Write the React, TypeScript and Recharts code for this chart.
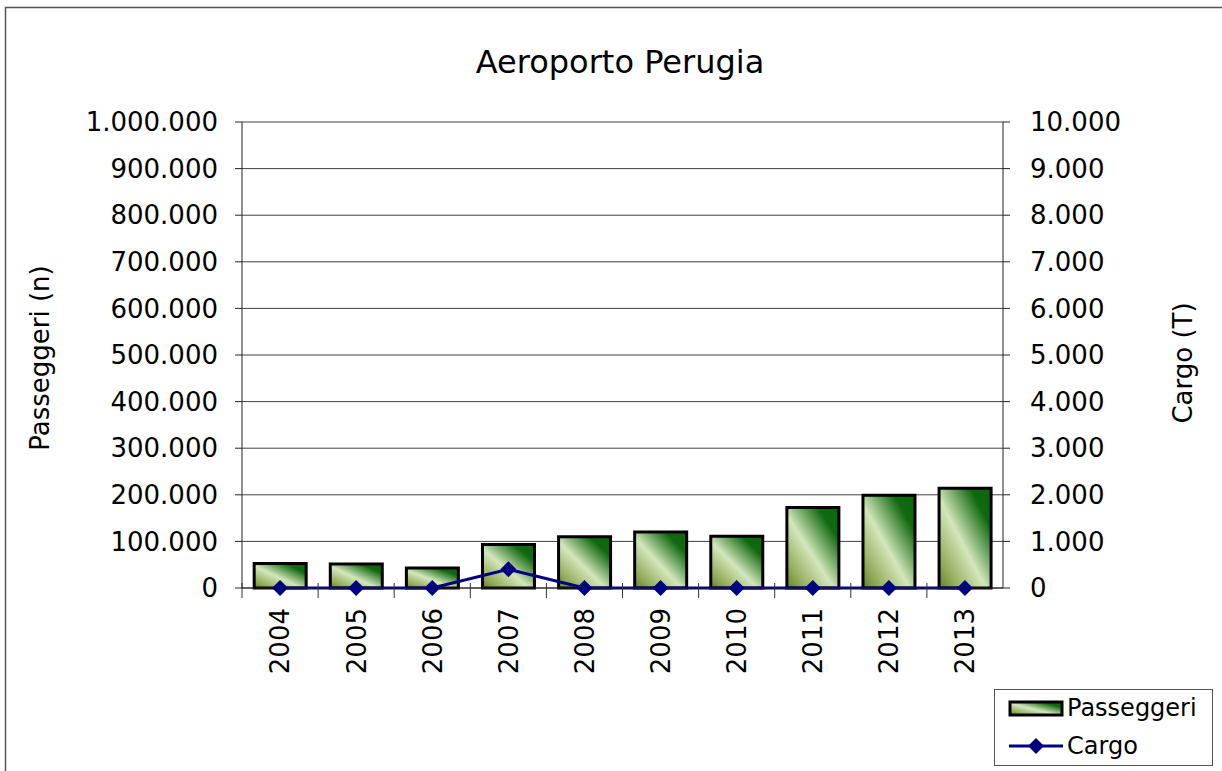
import React from 'react';
import { ComposedChart, Bar, Line, XAxis, YAxis, CartesianGrid, Legend } from 'recharts';

const years = ['2004', '2005', '2006', '2007', '2008', '2009', '2010', '2011', '2012', '2013'];
const passeggeri = [52800, 51500, 42700, 93600, 110000, 120000, 111000, 173000, 199000, 214000];
const cargo = [0, 0, 0, 400, 0, 0, 0, 0, 0, 0];
const leftTicks = [0, 100000, 200000, 300000, 400000, 500000, 600000, 700000, 800000, 900000, 1000000];
const rightTicks = [0, 1000, 2000, 3000, 4000, 5000, 6000, 7000, 8000, 9000, 10000];

const data = years.map((y, i) => ({ year: y, passeggeri: passeggeri[i], cargo: cargo[i] }));

const FONT = '"DejaVu Sans", Verdana, sans-serif';
const fmt = (v: number) => String(v).replace(/\B(?=(\d{3})+(?!\d))/g, '.');

const XTick = (props: any) => {
  const { x, y, payload } = props;
  const off = payload && payload.offset != null ? payload.offset : 38;
  return (
    <g>
      <line x1={x - off} x2={x - off} y1={y - 7} y2={y + 8} stroke="#333" strokeWidth={1} />
      <text
        transform={`translate(${x},${y + 18}) rotate(-90)`}
        textAnchor="end"
        dy="0.36em"
        fontSize={26}
        fill="#000"
        fontFamily={FONT}
      >
        {payload.value}
      </text>
    </g>
  );
};

const Diamond = (props: any) => {
  const { cx, cy } = props;
  if (cx == null || cy == null) return null;
  const r = 8;
  return <path d={`M${cx},${cy - r} L${cx + r},${cy} L${cx},${cy + r} L${cx - r},${cy} Z`} fill="#000080" />;
};

const GradStops = () => (
  <>
    <stop offset="0%" stopColor="#62802a" />
    <stop offset="15%" stopColor="#8faa55" />
    <stop offset="45%" stopColor="#d4e6bc" />
    <stop offset="80%" stopColor="#10690f" />
    <stop offset="100%" stopColor="#0d660d" />
  </>
);

const LegendBox = () => (
  <svg width={220} height={78} style={{ display: 'block' }}>
    <defs>
      <linearGradient id="legGrad" x1="0" y1="1" x2="1" y2="0">
        <GradStops />
      </linearGradient>
    </defs>
    <rect x={0.5} y={0.5} width={218} height={76} fill="#fff" stroke="#555" strokeWidth={1} />
    <rect x={16} y={13} width={52} height={13} fill="url(#legGrad)" stroke="#000" strokeWidth={3} />
    <text x={73} y={27} fontSize={24} fontFamily={FONT} fill="#000">Passeggeri</text>
    <line x1={15} x2={69} y1={57} y2={57} stroke="#000080" strokeWidth={3} />
    <path d="M42,49 L50,57 L42,65 L34,57 Z" fill="#000080" />
    <text x={73} y={65} fontSize={24} fontFamily={FONT} fill="#000">Cargo</text>
  </svg>
);

export default function App() {
  return (
    <div style={{ position: 'absolute', left: 0, top: 0, width: 1222, height: 771, background: '#fff' }}>
      <ComposedChart
        width={1222}
        height={771}
        data={data}
        margin={{ top: 122, right: 0, bottom: 0, left: 0 }}
        barCategoryGap="16%"
      >
        <defs>
          <linearGradient id="barGrad" x1="0" y1="1" x2="1" y2="0">
            <GradStops />
          </linearGradient>
        </defs>
        <CartesianGrid yAxisId="left" vertical={false} stroke="#404040" strokeWidth={1} />
        <XAxis
          dataKey="year"
          height={183}
          tickSize={0}
          tickLine={false}
          axisLine={{ stroke: '#222', strokeWidth: 1 }}
          tick={<XTick />}
          interval={0}
        />
        <YAxis
          yAxisId="left"
          orientation="left"
          width={242}
          domain={[0, 1000000]}
          ticks={leftTicks}
          interval={0}
          tickFormatter={fmt}
          tickSize={7}
          tickMargin={17}
          tickLine={{ stroke: '#222' }}
          axisLine={{ stroke: '#222', strokeWidth: 1 }}
          tick={{ fontSize: 26, fill: '#000', fontFamily: FONT }}
          label={{ value: 'Passeggeri (n)', angle: -90, position: 'center', dx: -81, dy: 3, fontSize: 26, fill: '#000', fontFamily: FONT }}
        />
        <YAxis
          yAxisId="right"
          orientation="right"
          width={219}
          domain={[0, 10000]}
          ticks={rightTicks}
          interval={0}
          tickFormatter={fmt}
          tickSize={7}
          tickMargin={20}
          tickLine={{ stroke: '#222' }}
          axisLine={{ stroke: '#222', strokeWidth: 1 }}
          tick={{ fontSize: 26, fill: '#000', fontFamily: FONT }}
          label={{ value: 'Cargo (T)', angle: -90, position: 'center', dx: 70, dy: 8, fontSize: 26, fill: '#000', fontFamily: FONT }}
        />
        <Bar
          yAxisId="left"
          dataKey="passeggeri"
          name="Passeggeri"
          fill="url(#barGrad)"
          stroke="#000"
          strokeWidth={3}
          isAnimationActive={false}
        />
        <Line
          yAxisId="right"
          dataKey="cargo"
          name="Cargo"
          type="linear"
          stroke="#000080"
          strokeWidth={3}
          dot={<Diamond />}
          activeDot={false}
          isAnimationActive={false}
        />
        <Legend
          layout="horizontal"
          verticalAlign="middle"
          align="center"
          wrapperStyle={{ position: 'absolute', left: 994, top: 689, width: 220, height: 78 }}
          content={() => <LegendBox />}
        />
      </ComposedChart>
      <svg
        width={1222}
        height={771}
        style={{ position: 'absolute', left: 0, top: 0, pointerEvents: 'none' }}
      >
        <rect x={5.5} y={7.5} width={1300} height={900} fill="none" stroke="#555" strokeWidth={1.5} />
        <text x={620} y={73} textAnchor="middle" fontSize={32} fontFamily={FONT} fill="#000">
          Aeroporto Perugia
        </text>
      </svg>
    </div>
  );
}
